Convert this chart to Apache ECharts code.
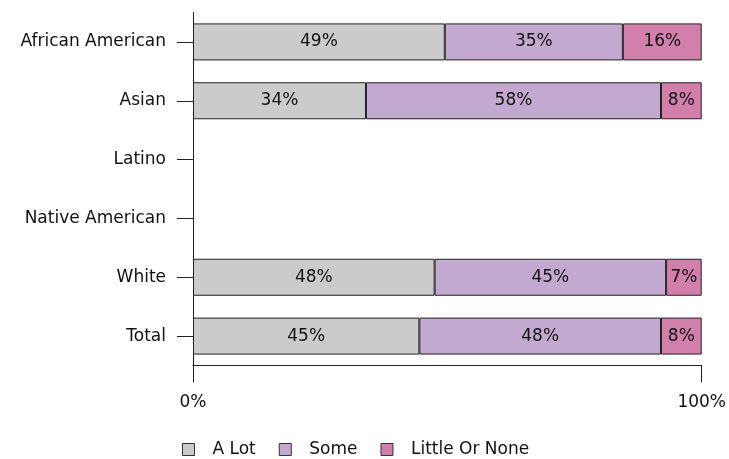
<!DOCTYPE html>
<html><head><meta charset="utf-8">
<script src="https://cdn.jsdelivr.net/npm/echarts@6/dist/echarts.min.js"></script>
<style>html,body{margin:0;padding:0;background:#fff}#c{width:729px;height:459px}</style>
</head><body><div id="c"></div>
<script>
var categories = ["African American", "Asian", "Latino", "Native American", "White", "Total"];
var seriesNames = ["A Lot", "Some", "Little Or None"];
var aLot = [49.5, 34, null, null, 47.5, 44.5];
var some = [35, 58, null, null, 45.5, 47.5];
var little = [15.5, 8, null, null, 7, 8];
var aLotLabels = ["49%", "34%", "", "", "48%", "45%"];
var someLabels = ["35%", "58%", "", "", "45%", "48%"];
var littleLabels = ["16%", "8%", "", "", "7%", "8%"];
var xTicks = [0, 100];
var colors = ["#cbcbcb", "#c3a9cf", "#d27fab"];

var FONT = "DejaVu Sans";
function mk(name, data, labels, color) {
  return {
    name: name, type: 'bar', stack: 'all', data: data, barWidth: 37,
    itemStyle: { color: color, borderColor: '#222', borderWidth: 1 },
    label: { show: true, position: 'inside', color: '#111', fontFamily: FONT, fontSize: 17,
      formatter: function (p) { return labels[p.dataIndex]; } },
    emphasis: { disabled: true }
  };
}
var chart = echarts.init(document.getElementById('c'), null, { renderer: 'canvas' });
chart.setOption({
  animation: false,
  color: colors,
  grid: { left: 193, right: 27, top: 12.5, bottom: 93.5, containLabel: false },
  legend: {
    left: 177, top: 436, itemWidth: 12, itemHeight: 12, itemGap: 23, icon: 'rect',
    itemStyle: { borderColor: '#333', borderWidth: 1 },
    textStyle: { fontFamily: FONT, fontSize: 17, color: '#111', padding: [0, 0, 0, 13] },
    data: seriesNames
  },
  xAxis: {
    type: 'value', min: xTicks[0], max: xTicks[1], interval: 100,
    axisLine: { show: true, lineStyle: { color: '#222', width: 1 } },
    axisTick: { show: true, length: 17, lineStyle: { color: '#222' } },
    splitLine: { show: false },
    axisLabel: { margin: 29, fontFamily: FONT, fontSize: 17, color: '#111', formatter: '{value}%' }
  },
  yAxis: {
    type: 'category', data: categories, inverse: true,
    axisLine: { show: true, lineStyle: { color: '#222', width: 1 } },
    axisTick: { show: true, length: 16, alignWithLabel: true, lineStyle: { color: '#222' } },
    axisLabel: { margin: 27, fontFamily: FONT, fontSize: 17, color: '#111' }
  },
  series: [
    mk(seriesNames[0], aLot, aLotLabels, colors[0]),
    mk(seriesNames[1], some, someLabels, colors[1]),
    mk(seriesNames[2], little, littleLabels, colors[2])
  ]
});
</script></body></html>
